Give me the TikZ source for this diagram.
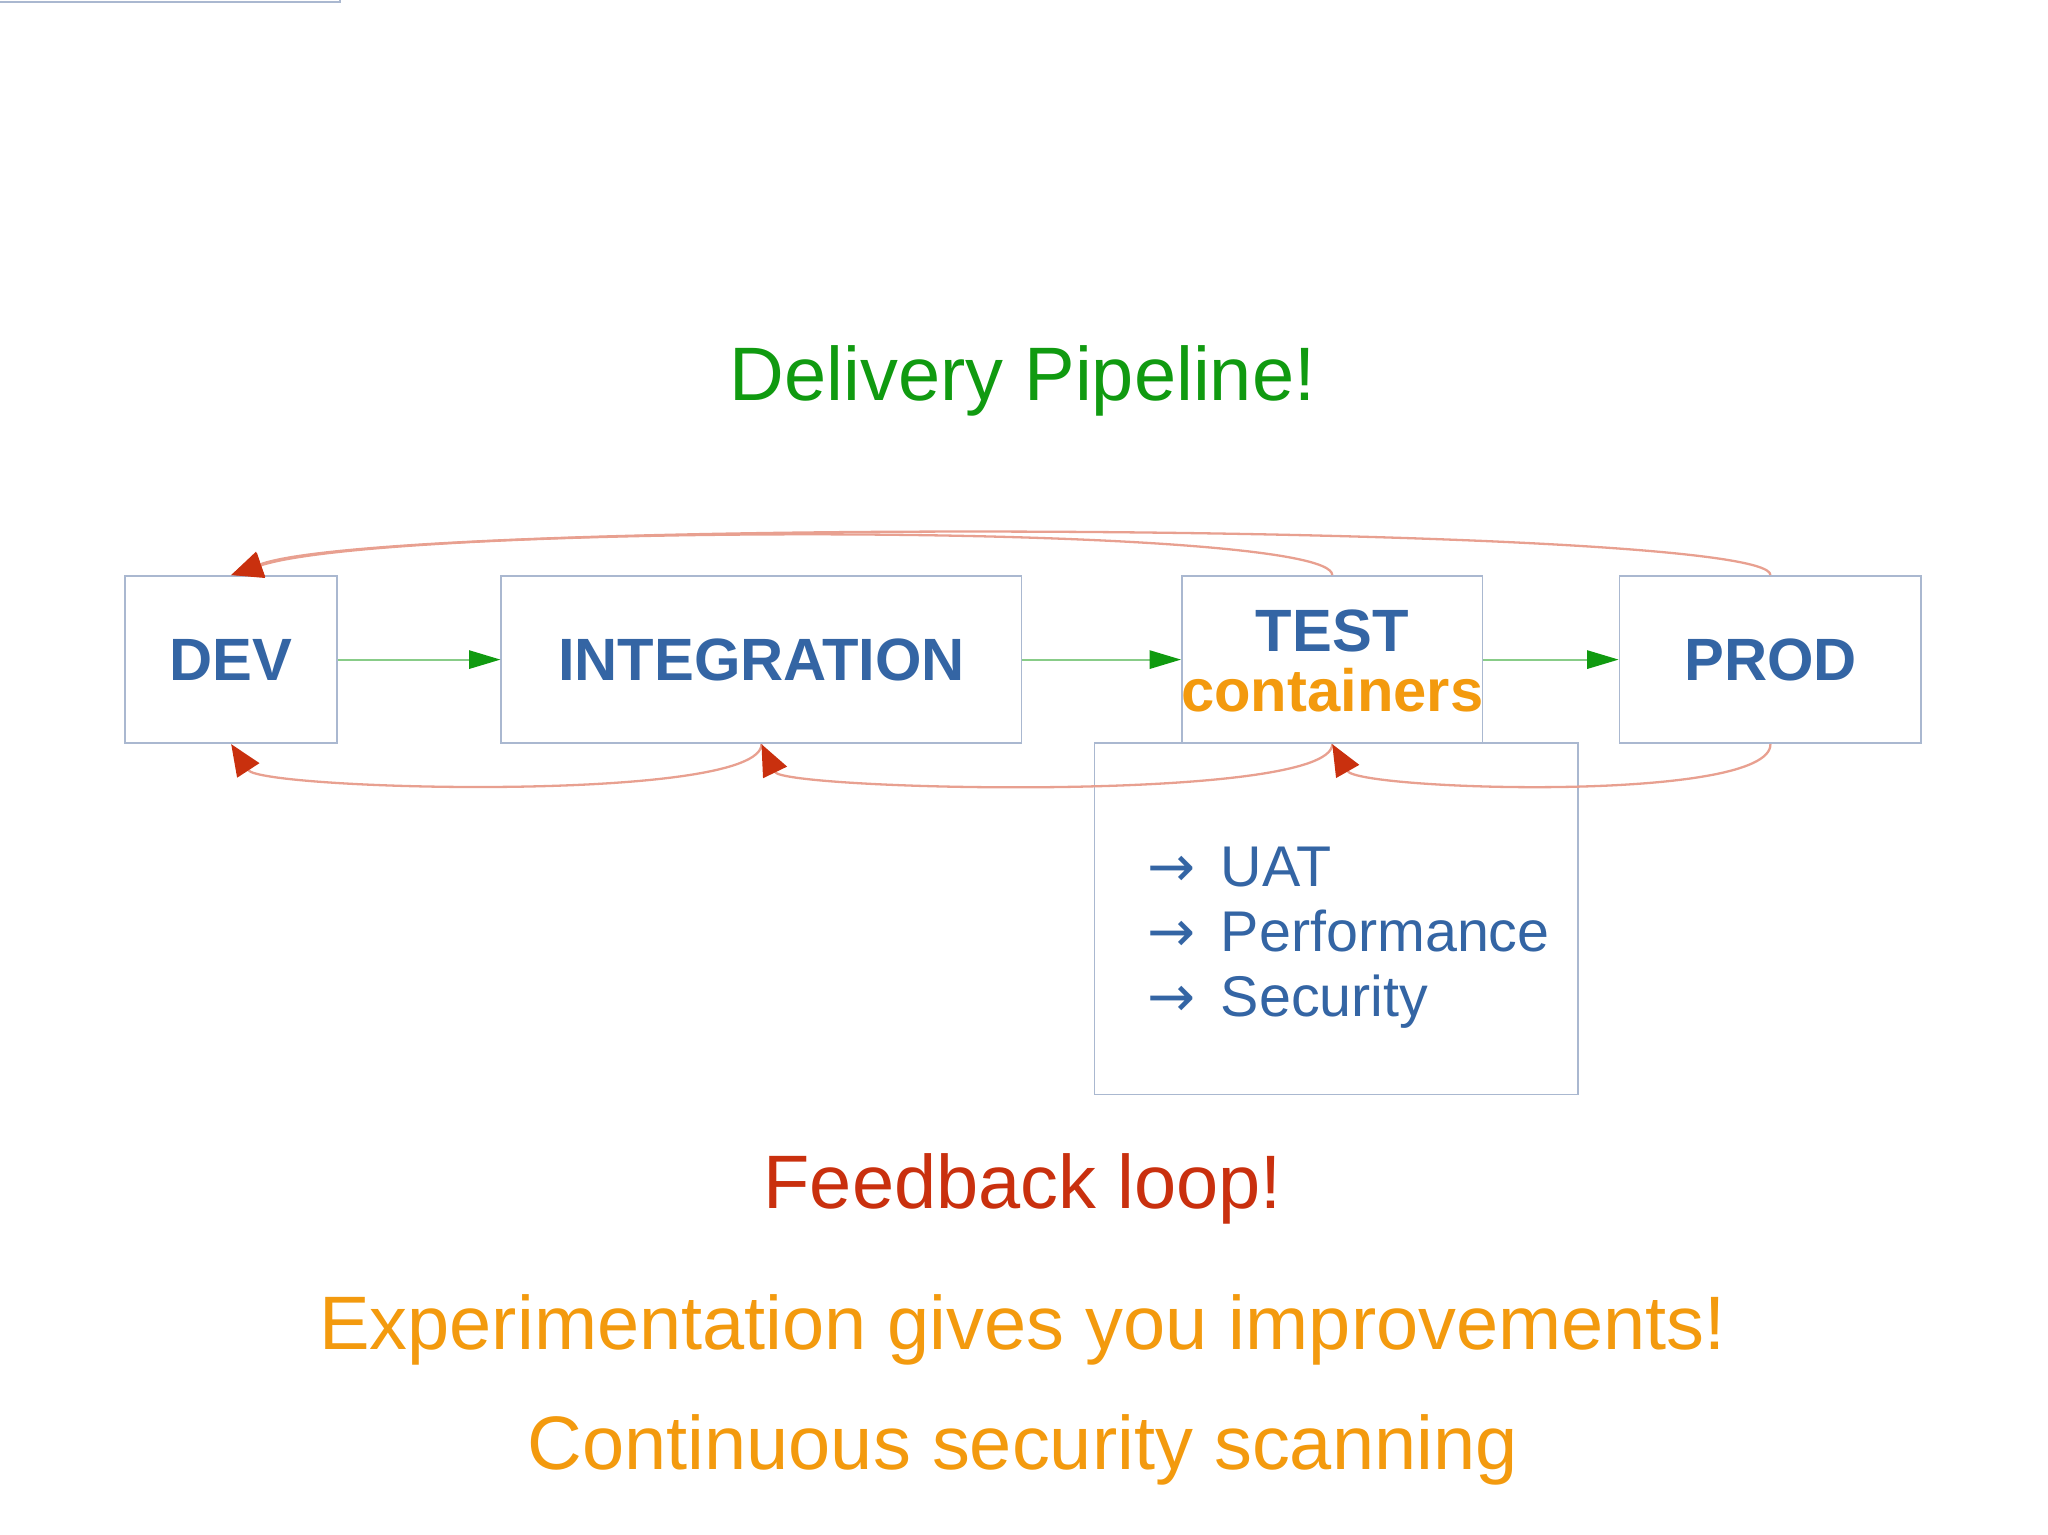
\documentclass[tikz,border=0pt]{standalone}
\usepackage{fontspec}
\setmainfont{Liberation Sans}
\newfontfamily\arrowfont{DejaVu Sans}
\usetikzlibrary{arrows.meta}
\definecolor{cblue}{HTML}{3465A4}
\definecolor{cgreen}{HTML}{109A10}
\definecolor{corange}{HTML}{F39A0E}
\definecolor{cred}{HTML}{C9300E}
\definecolor{cline}{HTML}{E8A090}
\definecolor{cbox}{HTML}{AAB8D0}
\begin{document}
\begin{tikzpicture}[x=0.01cm,y=0.01cm,
  box/.style={draw=cbox,line width=0.4pt,fill=white,inner sep=0pt},
  lab/.style={font=\fontsize{13}{15}\selectfont\bfseries,text=cblue},
  fwd/.style={draw=cgreen!50,line width=0.4pt,-{Triangle[length=0.24cm,width=0.14cm,fill=cgreen,color=cgreen]}},
  back/.style={draw=cline,line width=0.5pt,-{Triangle[length=0.24cm,width=0.2cm,fill=cred,color=cred]}},
  big/.style={font=\fontsize{16.5}{19}\selectfont}]
\useasboundingbox (0,0) rectangle (1568,-1175);
\node[text=cgreen,big] (title) at (783,-292) {Delivery Pipeline!};
\node[box,minimum width=370\pgflinewidth] (list) at (0,0) {};
\path[draw=cbox,line width=0.4pt] (838,-569) rectangle (1208,-838);
\node[box,minimum width=1.62cm,minimum height=1.28cm] (dev) at (177,-505) {};
\node[lab] at (dev) {DEV};
\node[box,minimum width=3.98cm,minimum height=1.28cm] (int) at (583,-505) {};
\node[lab] at (int) {INTEGRATION};
\node[box,minimum width=2.30cm,minimum height=1.28cm] (test) at (1020,-505) {};
\node[lab,align=center] at (1020,-506) {TEST\\[-2pt]\textcolor{corange}{containers}};
\node[box,minimum width=2.31cm,minimum height=1.28cm] (prod) at (1355.5,-505) {};
\node[lab] at (prod) {PROD};
\draw[fwd] (dev.east) -- (int.west);
\draw[fwd] (int.east) -- (test.west);
\draw[fwd] (test.east) -- (prod.west);
\draw[back] (test.north) .. controls (1020,-400) and (300,-400) .. (dev.north);
\draw[back] (prod.north) .. controls (1356,-400) and (300,-395) .. (dev.north);
\draw[back] (int.south) .. controls (583,-615) and (200,-605) .. (dev.south);
\draw[back] (test.south) .. controls (1020,-615) and (600,-605) .. (int.south);
\draw[back] (prod.south) .. controls (1356,-615) and (1040,-605) .. (test.south);
\node[anchor=west,text=cblue,align=left,font=\fontsize{12.5}{14.2}\selectfont] (items) at (866,-718)
 {{\arrowfont →}\, UAT\\{\arrowfont →}\, Performance\\{\arrowfont →}\, Security};
\node[text=cred,big] (fb) at (783,-910) {Feedback loop!};
\node[text=corange,big] (exp) at (783,-1018) {Experimentation gives you improvements!};
\node[text=corange,big] (cont) at (783,-1110) {Continuous security scanning};
\end{tikzpicture}
\end{document}
